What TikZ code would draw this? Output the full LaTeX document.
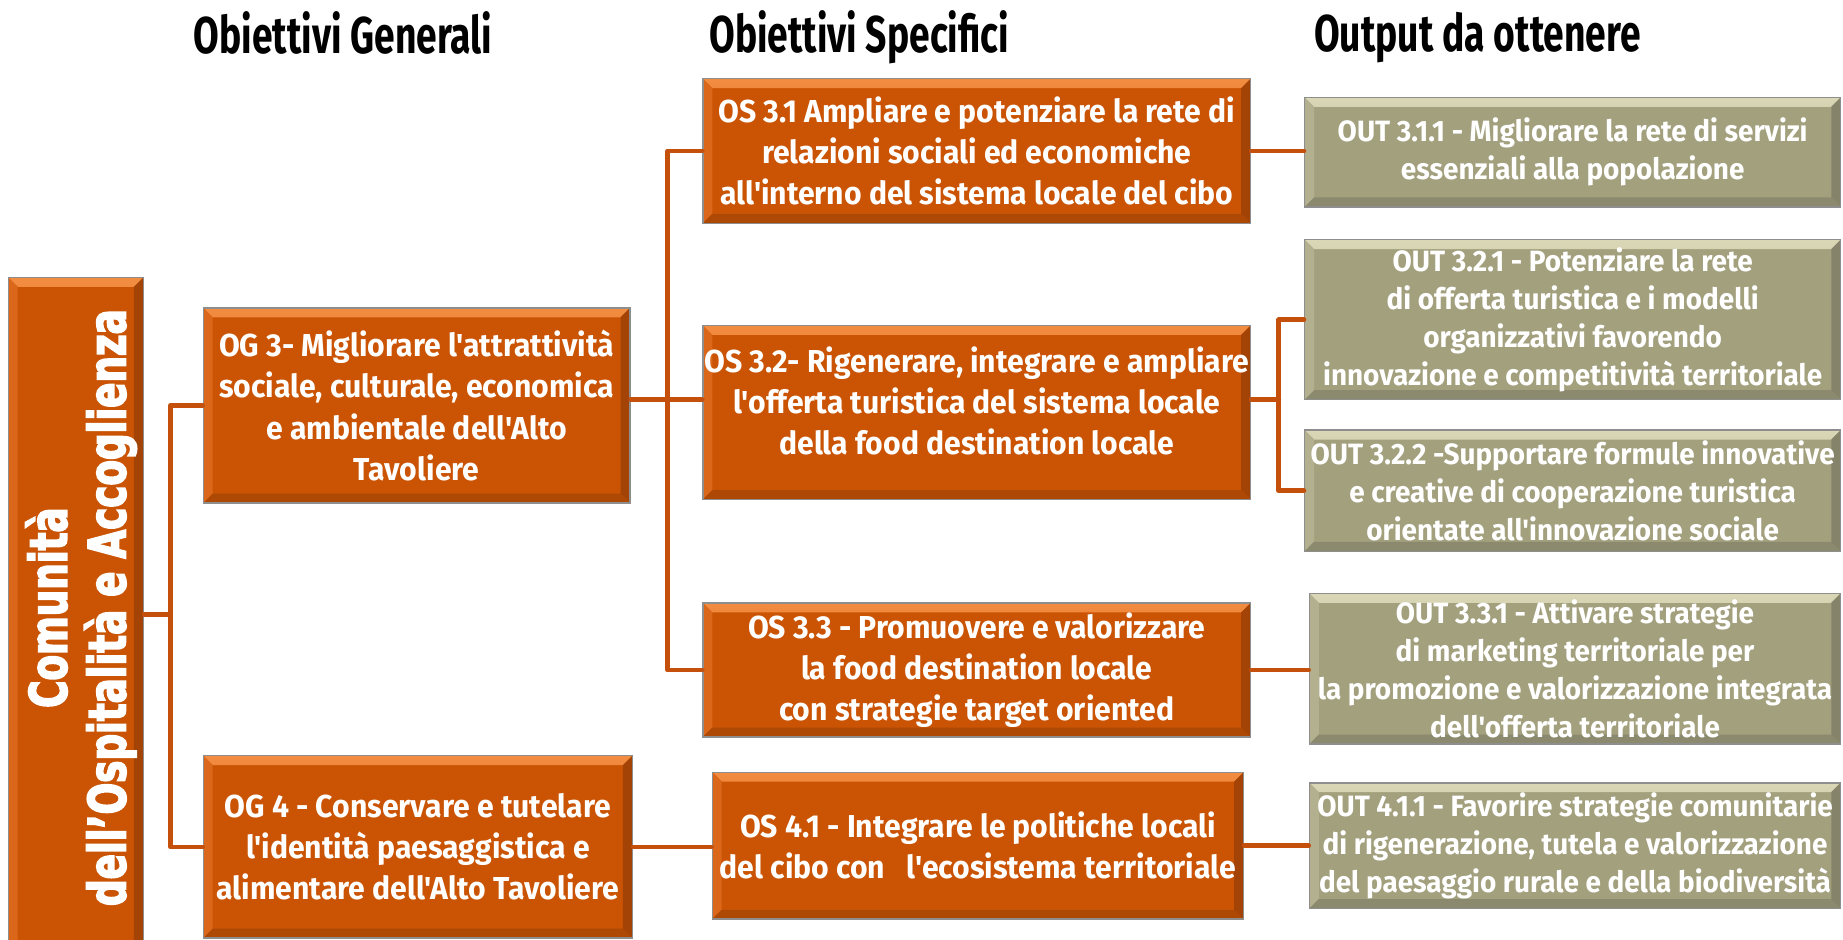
\documentclass[tikz,border=0pt]{standalone}
\usepackage{fontspec}
\setmainfont{Fira Sans}
\newfontfamily\boxfont[FakeStretch=0.95]{Fira Sans}
\newfontfamily\headfont[FakeStretch=0.72]{Fira Sans}
\newfontfamily\vfont[FakeStretch=0.72,FakeBold=3]{DejaVu Sans}
\definecolor{orMain}{HTML}{CA5404}
\definecolor{orTop}{HTML}{F28C40}
\definecolor{orLeft}{HTML}{DA671A}
\definecolor{orRight}{HTML}{A34406}
\definecolor{orBot}{HTML}{AD4805}
\definecolor{grMain}{HTML}{A3A07E}
\definecolor{grTop}{HTML}{D9D7B6}
\definecolor{grLeft}{HTML}{B3B090}
\definecolor{grRight}{HTML}{85836A}
\definecolor{grBot}{HTML}{8B896E}
\definecolor{connC}{HTML}{C4500C}
\definecolor{edgeC}{HTML}{8E8E8E}
\begin{document}
\begin{tikzpicture}[x=1pt,y=-1pt,
  bevelpp/.style n args={5}{path picture={
    \def\bb{path picture bounding box}
    \shade[top color=#2,bottom color=#1] (\bb.north west) -- (\bb.north east) -- ([xshift=-8pt,yshift=-8pt]\bb.north east) -- ([xshift=8pt,yshift=-8pt]\bb.north west) -- cycle;
    \fill[#3] (\bb.north west) -- ([xshift=8pt,yshift=-8pt]\bb.north west) -- ([xshift=8pt,yshift=8pt]\bb.south west) -- (\bb.south west) -- cycle;
    \fill[#4] (\bb.north east) -- ([xshift=-8pt,yshift=-8pt]\bb.north east) -- ([xshift=-8pt,yshift=8pt]\bb.south east) -- (\bb.south east) -- cycle;
    \fill[#5] (\bb.south west) -- ([xshift=8pt,yshift=8pt]\bb.south west) -- ([xshift=-8pt,yshift=8pt]\bb.south east) -- (\bb.south east) -- cycle;
  }},
  obox/.style={draw=edgeC,line width=1.2pt,fill=orMain,inner sep=0pt,align=center,text=white,
    font=\boxfont\bfseries\fontsize{27}{35}\selectfont,
    bevelpp={orMain}{orTop}{orLeft}{orRight}{orBot}},
  gbox/.style={draw=edgeC,line width=1.2pt,fill=grMain,inner sep=0pt,align=center,text=white,
    font=\boxfont\bfseries\fontsize{25}{32.5}\selectfont,
    bevelpp={grMain}{grTop}{grLeft}{grRight}{grBot}},
  head/.style={font=\headfont\bfseries\fontsize{44}{46}\selectfont,text=black,inner sep=0pt},
  conn/.style={draw=connC,line width=4pt,line join=round,line cap=round}
]
\useasboundingbox (0,0) rectangle (1568,799);

% headers
\node[head] (h1) at (292,28) {Obiettivi Generali};
\node[head] (h2) at (731,32) {Obiettivi Specifici};
\node[head] (h3) at (1257,32) {Output da ottenere};

% vertical box
\node[obox,minimum width=115pt,minimum height=574pt] (vb) at (64.5,523) {};
\node[rotate=90,align=center,text=white,font=\vfont\bfseries\fontsize{44}{50}\selectfont] (vt) at (69,517) {Comunità\\dell’Ospitalità e Accoglienza};

% general objectives
\node[obox,minimum width=363pt,minimum height=166pt] (og3) at (354.5,345) {OG 3- Migliorare l'attrattività\\sociale, culturale, economica\\e ambientale dell'Alto\\Tavoliere};
\node[obox,minimum width=365pt,minimum height=155pt] (og4) at (355.5,720.5) {OG 4 - Conservare e tutelare\\l'identità paesaggistica e\\alimentare dell'Alto Tavoliere};

% specific objectives
\node[obox,minimum width=466pt,minimum height=123pt] (os31) at (831,128.5) {OS 3.1 Ampliare e potenziare la rete di\\relazioni sociali ed economiche\\all'interno del sistema locale del cibo};
\node[obox,minimum width=466pt,minimum height=148pt] (os32) at (831,351) {OS 3.2- Rigenerare, integrare e ampliare\\l'offerta turistica del sistema locale\\della food destination locale\\[-15pt]\mbox{}};
\node[obox,minimum width=466pt,minimum height=114pt] (os33) at (831,570) {OS 3.3 - Promuovere e valorizzare\\la food destination locale\\con strategie target oriented};
\node[obox,minimum width=452pt,minimum height=125pt] (os41) at (832,719.5) {OS 4.1 - Integrare le politiche locali\\del cibo con \ \ l'ecosistema territoriale};

% outputs
\node[gbox,minimum width=456pt,minimum height=93pt] (o311) at (1338,129.5) {OUT 3.1.1 - Migliorare la rete di servizi\\essenziali alla popolazione};
\node[gbox,minimum width=456pt,minimum height=136pt] (o321) at (1338,272) {OUT 3.2.1 - Potenziare la rete\\di offerta turistica e i modelli\\organizzativi favorendo\\innovazione e competitività territoriale};
\node[gbox,minimum width=456pt,minimum height=103pt] (o322) at (1338,417.5) {OUT 3.2.2 -Supportare formule innovative\\e creative di cooperazione turistica\\orientate all'innovazione sociale};
\node[gbox,minimum width=452pt,minimum height=128pt] (o331) at (1340,569) {OUT 3.3.1 - Attivare strategie\\di marketing territoriale per\\la promozione e valorizzazione integrata\\dell'offerta territoriale};
\node[gbox,minimum width=452pt,minimum height=107pt] (o411) at (1340,719.5) {OUT 4.1.1 - Favorire strategie comunitarie\\di rigenerazione, tutela e valorizzazione\\del paesaggio rurale e della biodiversità};

% junctions
\coordinate (j1) at (145,523);
\coordinate (j2) at (568,340);
\coordinate (j3) at (1088,340);

% connectors
\draw[conn] (vb.east) -- (j1);
\draw[conn] (og3.west) -| (j1) |- (og4.west);
\draw[conn] (og3.east |- j2) -- (os32.west |- j2);
\draw[conn] (os31.west) -| (j2) |- (os33.west);
\draw[conn] (os31.east) -- (os31.east -| o311.west);
\draw[conn] (os32.east |- j3) -- (j3);
\draw[conn] (o321.west) -| (j3) |- (o322.west);
\draw[conn] (os33.east) -- (os33.east -| o331.west);
\draw[conn] (og4.east) -- (og4.east -| os41.west);
\draw[conn] (os41.east) -- (os41.east -| o411.west);
\end{tikzpicture}
\end{document}
